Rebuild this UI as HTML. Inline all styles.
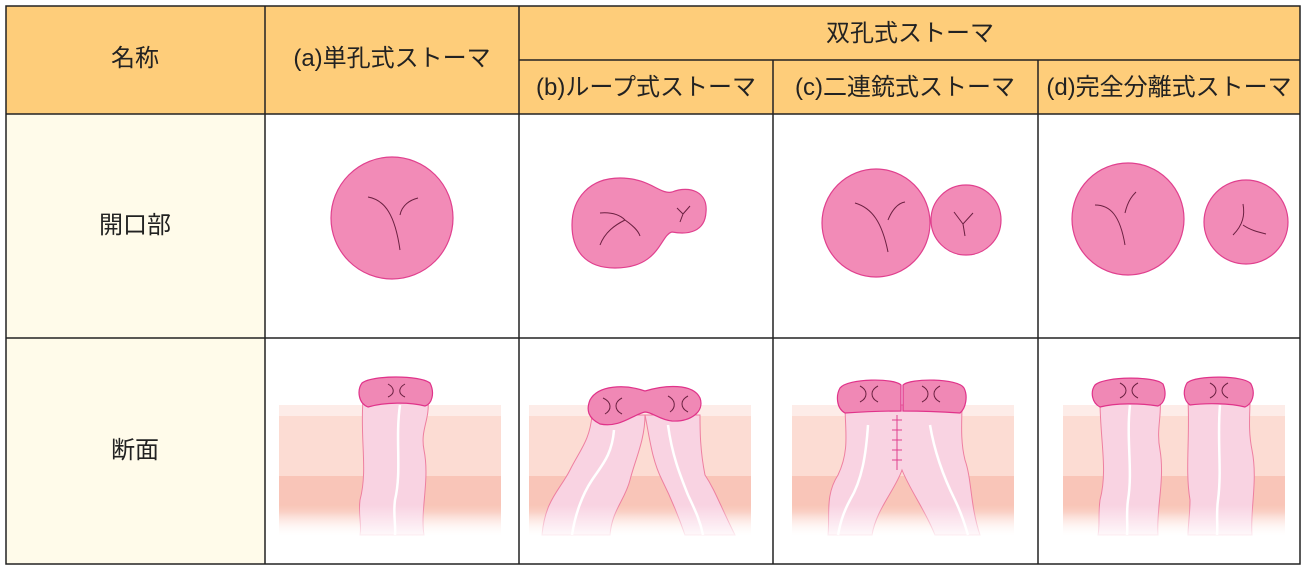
<!DOCTYPE html>
<html><head><meta charset="utf-8"><style>
html,body{margin:0;padding:0;background:#fff;width:1306px;height:571px;overflow:hidden}
text{font-family:"Liberation Sans","Noto Sans CJK JP",sans-serif;font-size:24px;fill:#222}
</style></head><body>
<svg width="1306" height="571" viewBox="0 0 1306 571" xmlns="http://www.w3.org/2000/svg">
<defs>
<linearGradient id="sk" x1="0" y1="0" x2="0" y2="1">
<stop offset="0" stop-color="#F9C5B8"/><stop offset="0.6" stop-color="#F9C5B8"/><stop offset="1" stop-color="#fff"/>
</linearGradient>
<linearGradient id="fade" x1="0" y1="0" x2="0" y2="1">
<stop offset="0" stop-color="#fff" stop-opacity="0"/><stop offset="1" stop-color="#fff" stop-opacity="0.9"/>
</linearGradient>
<g id="skin">
<rect x="0" y="405" width="222" height="11" fill="#FDECE8"/>
<rect x="0" y="416" width="222" height="60" fill="#FCDCD3"/>
<rect x="0" y="476" width="222" height="60" fill="url(#sk)"/>
</g>
</defs>
<rect x="6" y="6" width="1294" height="108" fill="#FECD7A"/>
<rect x="6" y="114" width="259" height="450" fill="#FFFBEA"/>
<text x="135" y="66" text-anchor="middle">名称</text>
<text x="392" y="66" text-anchor="middle">(a)単孔式ストーマ</text>
<text x="910" y="41" text-anchor="middle">双孔式ストーマ</text>
<text x="646" y="95" text-anchor="middle" font-size="23">(b)ループ式ストーマ</text>
<text x="905" y="95" text-anchor="middle" font-size="23">(c)二連銃式ストーマ</text>
<text x="1169" y="95" text-anchor="middle" font-size="23">(d)完全分離式ストーマ</text>
<text x="135" y="233" text-anchor="middle">開口部</text>
<text x="135" y="458" text-anchor="middle">断面</text>

<g fill="#F28BB7" stroke="#E0408E" stroke-width="1.2">
<circle cx="392" cy="218" r="61"/>
<path d="M620,178 C650,178 660,195 672,192 C690,185 708,192 706,212 C705,232 688,235 672,232 C660,235 660,268 615,268 C585,268 572,250 572,225 C572,198 590,178 620,178Z"/>
<circle cx="876" cy="223" r="54"/>
<circle cx="966" cy="220" r="35"/>
<circle cx="1128" cy="219" r="56"/>
<circle cx="1246" cy="222" r="42"/>
</g>
<g fill="none" stroke="#6a2040" stroke-width="1">
<path d="M368,197 C385,200 395,215 400,250 M400,215 C402,205 410,200 418,198"/>
<path d="M600,213 C612,212 620,215 625,220 C615,225 605,232 600,245 M625,220 C632,225 638,230 640,236"/>
<path d="M677,208 L683,214 L690,206 M683,214 L680,222"/>
<path d="M855,203 C872,208 882,222 888,252 M888,220 C892,210 898,203 905,202"/>
<path d="M954,212 L963,224 L973,213 M963,224 L965,236"/>
<path d="M1095,205 C1110,205 1120,215 1125,245 M1125,213 C1128,200 1133,195 1136,192"/>
<path d="M1243,204 C1245,215 1243,225 1233,235 M1243,225 C1250,230 1258,232 1266,234"/>
</g>

<use href="#skin" x="279"/>
<use href="#skin" x="529"/>
<use href="#skin" x="792"/>
<use href="#skin" x="1063"/>

<g fill="#F9D3E2" stroke="#EE7FA0" stroke-width="1">
<path d="M363,400 C360,440 368,470 360,500 C358,515 362,525 360,535 L424,535 C420,510 430,480 424,450 C420,430 430,420 428,400Z"/>
<path d="M592,415 C590,440 580,450 570,470 C560,490 545,500 542,535 L610,535 C612,510 625,500 630,480 C635,460 645,440 645,415Z"/>
<path d="M645,415 C650,440 652,460 662,480 C672,500 678,515 685,535 L735,535 C720,505 715,490 705,475 C700,450 700,430 700,415Z"/>
<path d="M845,405 C845,430 850,450 838,475 C825,495 830,515 828,535 L872,535 C876,510 895,490 902,470 C910,490 925,510 935,535 L980,535 C970,505 972,480 965,460 C960,440 962,420 962,405Z"/>
<path d="M1100,400 C1100,440 1108,470 1100,500 C1098,515 1100,525 1098,535 L1158,535 C1156,510 1165,480 1160,450 C1156,430 1162,415 1160,400Z"/>
<path d="M1188,400 C1190,440 1185,470 1190,500 C1190,515 1188,525 1188,535 L1252,535 C1250,510 1258,480 1252,450 C1248,430 1250,415 1250,400Z"/>
</g>
<g fill="none" stroke="#fff" stroke-width="2.5">
<path d="M400,405 C395,440 402,470 395,500 C393,515 396,525 395,535"/>
<path d="M614,430 C612,455 602,465 592,480 C582,495 575,515 572,535"/>
<path d="M668,425 C672,455 680,475 688,495 C695,510 700,520 703,535"/>
<path d="M868,425 C866,455 862,480 850,500 C842,515 840,525 838,535"/>
<path d="M930,425 C935,455 945,480 955,500 C962,515 965,525 968,535"/>
<path d="M1130,405 C1126,440 1133,470 1128,500 C1126,515 1128,525 1127,535"/>
<path d="M1220,405 C1217,440 1222,470 1218,500 C1216,515 1218,525 1217,535"/>
</g>
<g stroke="#E0408E" stroke-width="1">
<line x1="897" y1="415" x2="897" y2="470"/>
<line x1="892" y1="420" x2="902" y2="420"/><line x1="892" y1="430" x2="902" y2="430"/>
<line x1="892" y1="440" x2="902" y2="440"/><line x1="892" y1="450" x2="902" y2="450"/>
<line x1="892" y1="460" x2="902" y2="460"/>
</g>
<rect x="279" y="505" width="1010" height="32" fill="url(#fade)"/>

<g fill="#F088B5" stroke="#E0338A" stroke-width="1.2">
<path d="M362,383 C372,375 420,375 430,383 C435,393 432,404 425,406 C410,402 385,402 368,407 C358,403 357,390 362,383Z"/>
<path d="M590,400 C598,385 625,384 645,391 C665,385 693,383 700,398 C705,412 690,422 672,421 C660,420 652,412 645,412 C632,415 620,428 600,424 C588,418 586,410 590,400Z"/>
<path d="M840,388 C848,378 895,378 901,385 L901,411 C885,411 860,412 845,413 C836,408 836,395 840,388Z"/>
<path d="M903,385 C910,378 958,378 964,388 C968,396 966,408 960,413 C945,412 920,411 903,411Z"/>
<path d="M1095,385 C1105,376 1155,376 1163,384 C1167,394 1165,403 1158,406 C1140,403 1115,403 1100,407 C1092,403 1090,392 1095,385Z"/>
<path d="M1187,383 C1195,375 1245,375 1251,384 C1256,394 1252,404 1245,407 C1230,403 1205,403 1190,405 C1183,400 1183,390 1187,383Z"/>
</g>
<g fill="none" stroke="#6a2040" stroke-width="1">
<path d="M388,384 C395,388 395,394 388,397 M405,384 C398,388 398,394 405,397"/>
<path d="M603,398 C612,402 612,410 605,414 M622,398 C614,402 614,410 622,414"/>
<path d="M668,396 C676,400 676,408 670,412 M688,396 C680,400 680,408 688,412"/>
<path d="M860,386 C868,390 868,398 860,402 M878,386 C870,390 870,398 878,402"/>
<path d="M922,386 C930,390 930,398 922,402 M940,386 C932,390 932,398 940,402"/>
<path d="M1120,383 C1128,387 1128,394 1120,398 M1138,383 C1130,387 1130,394 1138,398"/>
<path d="M1210,383 C1218,387 1218,394 1210,398 M1228,383 C1220,387 1220,394 1228,398"/>
</g>

<g stroke="#222" stroke-width="1.5" fill="none">
<rect x="6" y="6" width="1294" height="558"/>
<line x1="265" y1="6" x2="265" y2="564"/>
<line x1="519" y1="6" x2="519" y2="564"/>
<line x1="773" y1="60" x2="773" y2="564"/>
<line x1="1038" y1="60" x2="1038" y2="564"/>
<line x1="519" y1="60" x2="1300" y2="60"/>
<line x1="6" y1="114" x2="1300" y2="114"/>
<line x1="6" y1="338" x2="1300" y2="338"/>
</g>
</svg>
</body></html>
